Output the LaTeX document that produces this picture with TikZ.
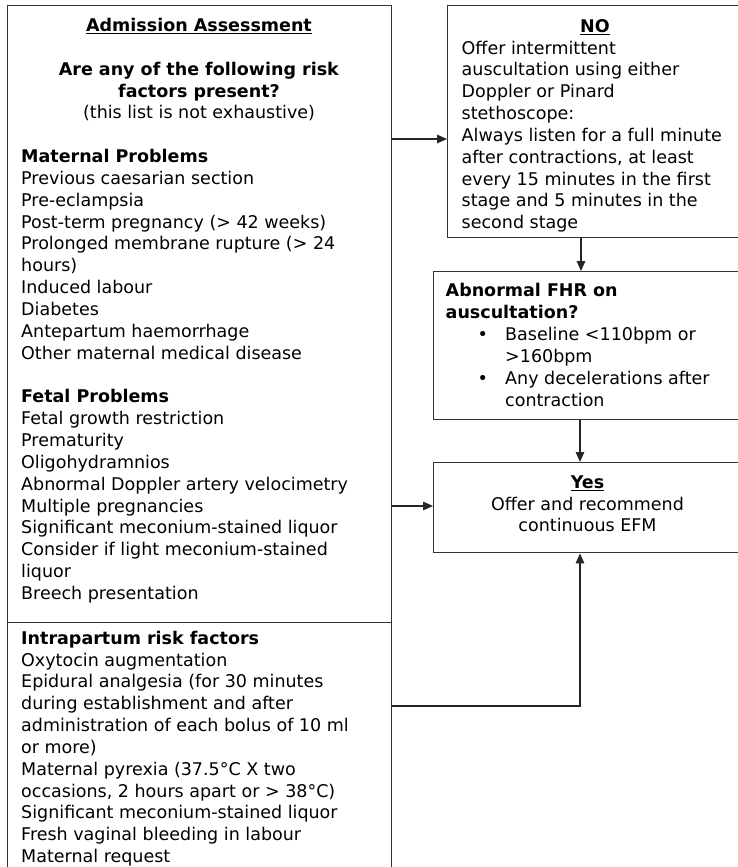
\documentclass[tikz,border=0pt]{standalone}
\usepackage{fontspec}
\setmainfont{DejaVu Sans}
\usetikzlibrary{arrows.meta}
\newcommand\firststrut{\rule{0pt}{15pt}}
\tikzset{
  box/.style={draw=black!80, line width=1.4pt, rectangle, anchor=north west, inner sep=0pt},
  txt/.style={inner sep=0pt, font=\fontsize{17.5pt}{21.84pt}\selectfont, text=black},
  txtl/.style={txt, align=left, anchor=north west},
  txtc/.style={txt, align=center, anchor=north},
  arr/.style={draw=black!85, line width=1.4pt, -{Triangle[length=10pt,width=8.5pt]}},
}
\begin{document}
\begin{tikzpicture}[x=1pt,y=-1pt]
\useasboundingbox (0,0) rectangle (738,867);
\fill[white] (0,0) rectangle (738,867);
\clip (0,0) rectangle (738,867);

% boxes
\node[box, minimum width=384pt, minimum height=617pt] (assess) at (7,5) {};
\node[box, minimum width=384pt, minimum height=320pt] (intra) at (7,622) {};
\node[box, minimum width=295pt, minimum height=232pt] (nobox) at (447,5) {};
\node[box, minimum width=309pt, minimum height=148pt] (abn) at (433,271) {};
\node[box, minimum width=309pt, minimum height=90pt] (yes) at (433,462) {};

% texts
\node[txtc] (titletext) at (199,16.4) {\firststrut\textbf{\underline{Admission Assessment}}\\
\mbox{}\\
\textbf{Are any of the following risk}\\
\textbf{factors present?}\\
(this list is not exhaustive)};

\node[txtl] (listtext) at (21,147.4) {\firststrut\textbf{Maternal Problems}\\
Previous caesarian section\\
Pre-eclampsia\\
Post-term pregnancy (> 42 weeks)\\
Prolonged membrane rupture (> 24\\
hours)\\
Induced labour\\
Diabetes\\
Antepartum haemorrhage\\
Other maternal medical disease\\
\mbox{}\\
\textbf{Fetal Problems}\\
Fetal growth restriction\\
Prematurity\\
Oligohydramnios\\
Abnormal Doppler artery velocimetry\\
Multiple pregnancies\\
Significant meconium-stained liquor\\
Consider if light meconium-stained\\
liquor\\
Breech presentation};

\node[txtl] (intratext) at (21,629) {\firststrut\textbf{Intrapartum risk factors}\\
Oxytocin augmentation\\
Epidural analgesia (for 30 minutes\\
during establishment and after\\
administration of each bolus of 10 ml\\
or more)\\
Maternal pyrexia (37.5°C X two\\
occasions, 2 hours apart or > 38°C)\\
Significant meconium-stained liquor\\
Fresh vaginal bleeding in labour\\
Maternal request};

\node[txtc] (notitle) at (595,17) {\firststrut\textbf{\underline{NO}}};
\node[txtl] (notext) at (461.5,38.8) {\firststrut Offer intermittent\\
auscultation using either\\
Doppler or Pinard\\
stethoscope:\\
Always listen for a full minute\\
after contractions, at least\\
every 15 minutes in the first\\
stage and 5 minutes in the\\
second stage};

\node[txtl] (abntext) at (445.5,281.7) {\firststrut\textbf{Abnormal FHR on}\\
\textbf{auscultation?}\\
\hspace*{32pt}\makebox[27.5pt][l]{•}Baseline <110bpm or\\
\hspace*{59.5pt}>160bpm\\
\hspace*{32pt}\makebox[27.5pt][l]{•}Any decelerations after\\
\hspace*{59.5pt}contraction};

\node[txtc] (yestext) at (587.5,473) {\firststrut\textbf{\underline{Yes}}\\
Offer and recommend\\
continuous EFM};

% connector helper coordinates
\coordinate (r1) at (0,139);
\coordinate (r2) at (0,506);
\coordinate (r3) at (0,706);
\coordinate (c1) at (581,0);
\coordinate (c2) at (580,0);

% connectors
\draw[arr] (assess.east |- r1) -- (nobox.west |- r1);
\draw[arr] (nobox.south -| c1) -- (abn.north -| c1);
\draw[arr] (abn.south -| c2) -- (yes.north -| c2);
\draw[arr] (assess.east |- r2) -- (yes.west |- r2);
\draw[arr] (intra.east |- r3) -| (yes.south -| c2);
\end{tikzpicture}
\end{document}
